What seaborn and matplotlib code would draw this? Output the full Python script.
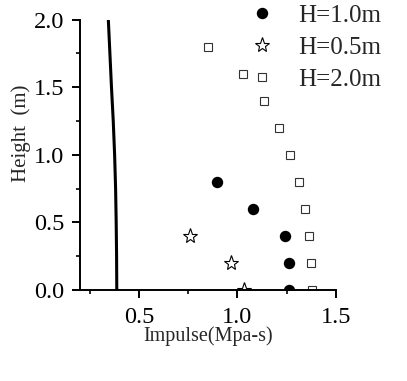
import matplotlib
matplotlib.use("Agg")
import matplotlib.pyplot as plt
import seaborn as sns
import pandas as pd

# ---- data ----
h10_height = [0.8, 0.6, 0.4, 0.2, 0.0]
h10_impulse = [0.895, 1.081, 1.244, 1.264, 1.264]

h05_height = [0.4, 0.2, 0.0]
h05_impulse = [0.759, 0.966, 1.035]

h20_height = [1.8, 1.6, 1.4, 1.2, 1.0, 0.8, 0.6, 0.4, 0.2, 0.0]
h20_impulse = [0.851, 1.030, 1.137, 1.213, 1.268, 1.312, 1.344, 1.363, 1.374, 1.380]

curve_height = [0.0, 0.25, 0.5, 0.75, 1.0, 1.25, 1.5, 1.75, 2.0]
curve_impulse = [0.387, 0.386, 0.384, 0.381, 0.376, 0.369, 0.360, 0.352, 0.344]

x_ticks = [0.5, 1.0, 1.5]
y_ticks = [0.0, 0.5, 1.0, 1.5, 2.0]

sns.set_style("ticks")
plt.rcParams["font.family"] = ["Liberation Serif", "DejaVu Serif"]
plt.rcParams["mathtext.fontset"] = "stix"

fig = plt.figure(figsize=(4.07, 3.81), dpi=100)
ax = fig.add_axes([80 / 407, 1 - 290 / 381, 255.7 / 407, 270.5 / 381])

curve_df = pd.DataFrame({"x": curve_impulse, "y": curve_height})
sns.lineplot(data=curve_df, x="x", y="y", sort=False, estimator=None,
             color="black", linewidth=2.2, ax=ax)

ax.plot(h10_impulse, h10_height, linestyle="none", marker="o", markersize=7.2,
        markerfacecolor="black", markeredgecolor="black", label="H=1.0m")
ax.plot(h05_impulse, h05_height, linestyle="none", marker="*", markersize=11,
        markerfacecolor="white", markeredgecolor="black", markeredgewidth=0.8,
        label="H=0.5m")
ax.plot(h20_impulse, h20_height, linestyle="none", marker="s", markersize=6,
        markerfacecolor="white", markeredgecolor="#333333", markeredgewidth=0.8,
        label="H=2.0m")

ax.set_xlim(0.2, 1.5)
ax.set_ylim(0.0, 2.0)
ax.set_xticks(x_ticks)
ax.set_xticks([0.25, 0.75, 1.25], minor=True)
ax.set_yticks(y_ticks)
ax.set_yticks([0.25, 0.75, 1.25, 1.75], minor=True)
ax.set_xticklabels([f"{v:.1f}" for v in x_ticks])
ax.set_yticklabels([f"{v:.1f}" for v in y_ticks])

ax.tick_params(which="major", direction="out", length=6, width=1.4,
               labelsize=17.5, colors="black")
ax.tick_params(axis="x", which="major", pad=6.5)
ax.tick_params(axis="y", which="major", pad=5.5)
ax.tick_params(which="minor", direction="out", length=3.2, width=1.4)

for s in ["top", "right"]:
    ax.spines[s].set_visible(False)
for s in ["left", "bottom"]:
    ax.spines[s].set_linewidth(1.4)
    ax.spines[s].set_color("black")

ax.set_xlabel("Impulse(Mpa-s)", fontsize=14.5, labelpad=0)
ax.xaxis.set_label_coords(0.5, -0.135)
ax.xaxis.label.set_va("top")
ax.set_ylabel("Height  (m)", fontsize=15)
ax.yaxis.set_label_coords(-0.19, 0.58)

leg = ax.legend(loc="upper left", bbox_to_anchor=(0.663, 1.057), frameon=False,
                fontsize=18, numpoints=1, handlelength=1.0, handletextpad=0.94,
                borderpad=0, borderaxespad=0, labelspacing=0.39)

fig.savefig("out.png", dpi=100)
